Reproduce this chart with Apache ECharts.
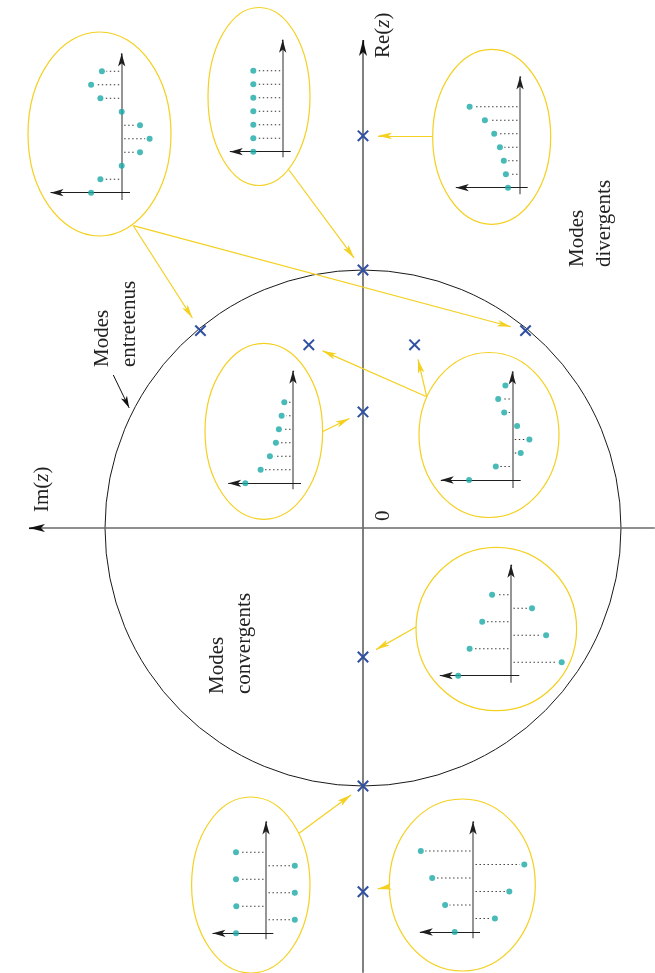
<!DOCTYPE html>
<html><head><meta charset="utf-8">
<script src="https://cdn.jsdelivr.net/npm/echarts@6/dist/echarts.min.js"></script>
<style>html,body{margin:0;padding:0;background:#fff}#c{width:655px;height:973px}</style>
</head><body><div id="c"></div>
<script>
// ================= DATA =================
// Poles in the z-plane (Im(z), Re(z))
const poleIm = [0, 0, 0, 0, 0, 0, 0.63, -0.63, 0.21, -0.2];
const poleRe = [1.52, 1.0, 0.45, -0.5, -1.0, -1.41, 0.765, 0.765, 0.71, 0.71];
const unitRadius = [1];
// Sequences drawn in the insets (sample n = 0,1,2,...)
const seqA = [1.02, 0.71, 0, -0.61, -0.93, -0.61, 0, 0.71, 1.02, 0.66];
const seqB = [0.98, 0.98, 0.98, 0.98, 0.98, 0.98, 0.98];
const seqC = [0.4, 0.47, 0.54, 0.67, 0.86, 1.17, 1.68];
const seqD = [1.59, 1.08, 0.77, 0.57, 0.47, 0.38, 0.29];
const seqE = [1.44, 0.55, -0.28, -0.57, -0.16, 0.27, 0.47, 0.23];
const seqF = [1.76, -1.69, 1.38, -1.17, 0.96, -0.7, 0.63];
const seqG = [1.0, -0.96, 0.99, -0.96, 1.0, -0.96, 1.0];
const seqH = [0.61, -0.73, 0.93, -1.21, 1.36, -1.71, 1.74];
// Text
const axisReName = 'Re', axisImName = 'Im', varName = 'z', originLabel = '0';
const modesWord = 'Modes';
const regionWords = ['entretenus', 'divergents', 'convergents'];

// ================= LAYOUT =================
const FONT = '"Liberation Serif","Times New Roman",serif';
const FS = 21;
const O = {x: 363, y: 528, s: 258, W: 655, H: 973};
const xMin = (O.x - O.W) / O.s, xMax = O.x / O.s, yMin = (O.y - O.H) / O.s, yMax = O.y / O.s;
const SX = 30, SY = 13.5;
const TEAL = '#1aa9a6', YEL = '#f4d020', BLUE = '#2f4fa2';

const insets = [
  {seq: seqA, ox: 121.7, oy: 192.7, hx0: 130, hx1: 44, vy0: 200, vy1: 47, e: [99.5, 134, 71.5, 102], targets: [6, 7], from: [133.3, 225.7]},
  {seq: seqB, ox: 282.7, oy: 151.7, hx0: 290.7, hx1: 223.3, vy0: 157.3, vy1: 33.3, e: [259, 96.5, 51, 89], targets: [1], from: [289, 170]},
  {seq: seqC, ox: 520, oy: 187.7, hx0: 527.7, hx1: 449.3, vy0: 194.3, vy1: 70, e: [491.7, 136.8, 59, 87.5], targets: [0], from: [432.7, 136]},
  {seq: seqD, ox: 293, oy: 483.3, hx0: 301, hx1: 221.7, vy0: 489.3, vy1: 364.3, e: [263.8, 431.3, 58.8, 88], targets: [2], from: [322.3, 431.7]},
  {seq: seqE, ox: 512.3, oy: 480, hx0: 520.7, hx1: 434.3, vy0: 488, vy1: 365, e: [489, 435, 70, 82.5], targets: [8, 9], from: [426.7, 396.7]},
  {seq: seqF, ox: 511, oy: 675.7, hx0: 519.3, hx1: 433.3, vy0: 682.7, vy1: 558.3, e: [496.3, 629, 80.3, 81.7], targets: [3], from: [416, 627]},
  {seq: seqG, ox: 266, oy: 933.3, hx0: 273.3, hx1: 206, vy0: 939.3, vy1: 815, e: [250.8, 885, 59.2, 88], targets: [4], from: [299, 833.3]},
  {seq: seqH, ox: 473, oy: 932, hx0: 480, hx1: 413.3, vy0: 938.3, vy1: 815, e: [462.3, 885, 73, 86], targets: [5], from: [389.3, 886.7]}
];

const grids = [{left: 0, top: 0, width: O.W, height: O.H}];
const xAxes = [{gridIndex: 0, type: 'value', inverse: true, min: xMin, max: xMax, show: false}];
const yAxes = [{gridIndex: 0, type: 'value', min: yMin, max: yMax, show: false}];
const series = [];
const graphics = [];

function arrowLine(a, b, size, lineStyle) {
  const s = Object.assign({symbolSize: 1}, a);
  if (lineStyle) s.lineStyle = lineStyle;
  return [s, Object.assign({symbolSize: size}, b)];
}
function plainLine(a, b, lineStyle) {
  return [Object.assign({symbol: 'none', symbolSize: 1, lineStyle: lineStyle}, a), Object.assign({symbol: 'none', symbolSize: 1}, b)];
}
const mlBase = {silent: true, animation: false, symbol: ['none', 'arrow'], label: {show: false}, emphasis: {disabled: true}};

// unit circle
series.push({
  type: 'custom', xAxisIndex: 0, yAxisIndex: 0, silent: true, z: 2,
  data: unitRadius.map(r => [0, 0, r]),
  renderItem: (p, api) => {
    const c = api.coord([api.value(0), api.value(1)]);
    const r = api.size([api.value(2), api.value(2)])[0];
    return {type: 'circle', shape: {cx: c[0], cy: c[1], r: r}, style: {fill: 'none', stroke: '#1a1a1a', lineWidth: 1}};
  }
});
// main axes + pointer arrow
const imTip = 21, reTip = 32;
const gray = {color: '#6a6a6a', width: 1.7, type: 'solid'};
const blk = {color: '#111', width: 1.2, type: 'solid'};
const reEnd = (O.y - reTip - 8) / O.s, imEnd = (O.x - imTip - 8) / O.s;
series.push({
  type: 'scatter', xAxisIndex: 0, yAxisIndex: 0, silent: true, symbolSize: 0, data: [[0, 0]], z: 1,
  markLine: Object.assign({}, mlBase, {
    data: [
      plainLine({coord: [0, yMin + 0.001]}, {coord: [0, reEnd]}, gray),
      arrowLine({coord: [0, reEnd - 0.02]}, {coord: [0, reEnd]}, [6, 16], blk),
      plainLine({coord: [xMin + 0.001, 0]}, {coord: [imEnd, 0]}, gray),
      arrowLine({coord: [imEnd - 0.02, 0]}, {coord: [imEnd, 0]}, [6, 16], blk),
      arrowLine({x: 113.3, y: 375}, {x: 129.2, y: 407.9}, [5, 12], {color: '#111', width: 1, type: 'solid'})
    ]
  })
});
// poles
series.push({
  type: 'custom', xAxisIndex: 0, yAxisIndex: 0, silent: true, z: 10,
  data: poleIm.map((im, i) => [im, poleRe[i]]),
  renderItem: (p, api) => {
    const c = api.coord([api.value(0), api.value(1)]);
    const d = 5.2;
    const st = {stroke: BLUE, lineWidth: 2};
    return {type: 'group', children: [
      {type: 'line', shape: {x1: c[0] - d, y1: c[1] - d, x2: c[0] + d, y2: c[1] + d}, style: st},
      {type: 'line', shape: {x1: c[0] - d, y1: c[1] + d, x2: c[0] + d, y2: c[1] - d}, style: st}
    ]};
  }
});
// yellow arrows host
series.push({id: 'yArrows', type: 'scatter', xAxisIndex: 0, yAxisIndex: 0, silent: true, symbolSize: 0, data: [[0, 0]], z: 3});

// insets
insets.forEach((ins, i) => {
  const gi = i + 1;
  const [cx, cy, rx, ry] = ins.e;
  const left = cx - rx, right = cx + rx, top = cy - ry, bottom = cy + ry;
  grids.push({left: left, top: top, width: right - left, height: bottom - top});
  xAxes.push({gridIndex: gi, type: 'value', inverse: true, min: (ins.ox - right) / SX, max: (ins.ox - left) / SX, show: false});
  yAxes.push({gridIndex: gi, type: 'value', min: (ins.oy - bottom) / SY, max: (ins.oy - top) / SY, show: false});
  const pts = ins.seq.map((v, n) => [v, n]);
  graphics.push({type: 'ellipse', shape: {cx: cx, cy: cy, rx: rx, ry: ry}, style: {fill: 'none', stroke: YEL, lineWidth: 1.2}, z: 1, silent: true});
  const vEnd = (ins.oy - ins.vy1 - 6.5) / SY;
  // axes
  series.push({
    type: 'scatter', xAxisIndex: gi, yAxisIndex: gi, silent: true, symbolSize: 0, data: [[0, 0]], z: 2,
    markLine: Object.assign({}, mlBase, {
      data: [
        plainLine({coord: [0, (ins.oy - ins.vy0) / SY]}, {coord: [0, vEnd]}, {color: '#727272', width: 1.5, type: 'solid'}),
        arrowLine({coord: [0, vEnd - 0.1]}, {coord: [0, vEnd]}, [5.5, 13], {color: '#1e1e1e', width: 1.2, type: 'solid'}),
        arrowLine({coord: [(ins.ox - ins.hx0) / SX, 0]}, {coord: [(ins.ox - ins.hx1 - 6.5) / SX, 0]}, [5.5, 13], {color: '#1e1e1e', width: 1.2, type: 'solid'})
      ]
    })
  });
  // dotted stems
  series.push({
    type: 'custom', xAxisIndex: gi, yAxisIndex: gi, silent: true, z: 3,
    data: pts,
    renderItem: (p, api) => {
      const v = api.value(0), n = api.value(1);
      if (v === 0 || n === 0) return null;
      const p0 = api.coord([0, n]), p1 = api.coord([v, n]);
      const s = Math.sign(p1[0] - p0[0]);
      const x1 = p0[0] + s * 2.5, x2 = p1[0] - s * 4.5;
      if (s * (x2 - x1) <= 0) return null;
      return {type: 'line', shape: {x1: x1, y1: p0[1], x2: x2, y2: p0[1]}, style: {stroke: '#333', lineWidth: 1.1, lineDash: [1.4, 2.6]}};
    }
  });
  // dots
  series.push({
    type: 'scatter', xAxisIndex: gi, yAxisIndex: gi, silent: true, z: 5,
    symbol: 'circle', symbolSize: 6, itemStyle: {color: TEAL}, data: pts
  });
});

// texts (rotated, reading bottom -> top)
function vtext(text, x, y, rich) {
  const st = {text: text, font: FS + 'px ' + FONT, fill: '#222', align: 'left', verticalAlign: 'middle'};
  if (rich) st.rich = rich;
  graphics.push({type: 'text', x: x, y: y, rotation: Math.PI / 2, style: st, silent: true, z: 20});
}
const richZ = {r: {fontSize: FS, fontFamily: FONT, fill: '#222'}, i: {fontSize: FS, fontFamily: FONT, fontStyle: 'italic', fill: '#222'}};
vtext('{r|' + axisReName + '(}{i|' + varName + '}{r|)}', 383, 58, richZ);
vtext('{r|' + axisImName + '(}{i|' + varName + '}{r|)}', 42, 512, richZ);
vtext(originLabel, 383, 521);
vtext(modesWord, 102.5, 367); vtext(regionWords[0], 129.5, 367);
vtext(modesWord, 577.5, 267); vtext(regionWords[1], 604, 267);
vtext(modesWord, 217.5, 694); vtext(regionWords[2], 244, 694);

const chart = echarts.init(document.getElementById('c'));
chart.setOption({
  animation: false, backgroundColor: '#fff',
  grid: grids, xAxis: xAxes, yAxis: yAxes, series: series, graphic: graphics
});

// yellow arrows from insets to poles
const arrowData = [];
const GAP = 8, HALF = 7;
insets.forEach(ins => ins.targets.forEach(t => {
  const p = chart.convertToPixel({xAxisIndex: 0, yAxisIndex: 0}, [poleIm[t], poleRe[t]]);
  const sx = ins.from[0], sy = ins.from[1];
  const dx = p[0] - sx, dy = p[1] - sy, L = Math.hypot(dx, dy);
  const k = (L - GAP - HALF) / L;
  arrowData.push(arrowLine({x: sx, y: sy}, {x: sx + dx * k, y: sy + dy * k}, [5, 14]));
}));
chart.setOption({series: [{id: 'yArrows', markLine: Object.assign({}, mlBase, {
  lineStyle: {color: YEL, width: 1.2, type: 'solid'}, data: arrowData
})}]});
</script>
</body></html>
